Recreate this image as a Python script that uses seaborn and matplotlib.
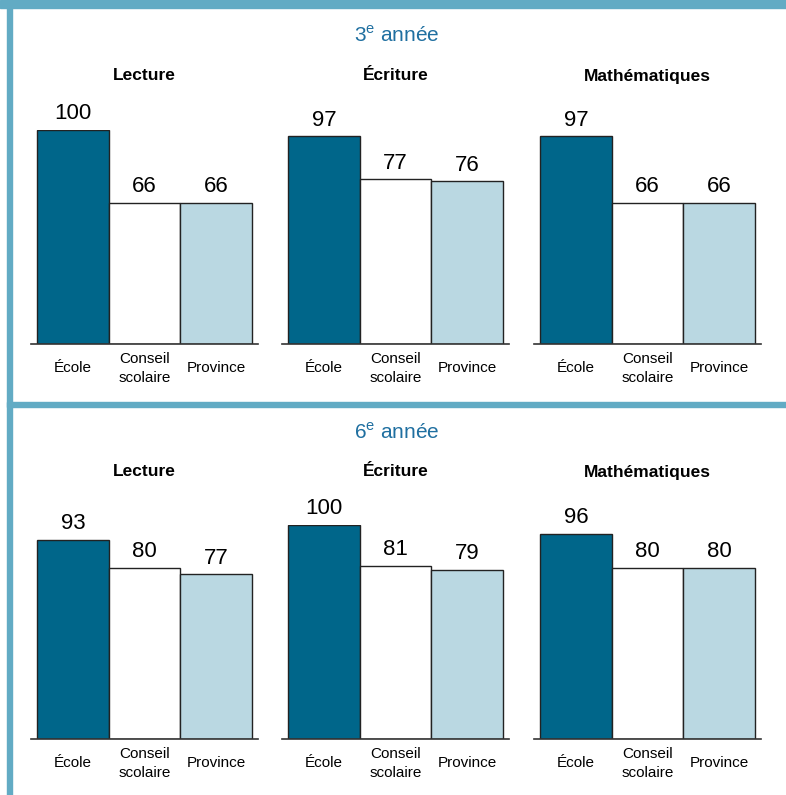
import matplotlib
matplotlib.use("Agg")
import matplotlib.pyplot as plt
import seaborn as sns
import pandas as pd
from matplotlib.patches import Rectangle

sns.set_style("white")
plt.rcParams['font.family'] = ['Liberation Sans', 'DejaVu Sans']
plt.rcParams['mathtext.fontset'] = 'custom'
plt.rcParams['mathtext.rm'] = 'Liberation Sans'
plt.rcParams['text.color'] = 'black'
plt.rcParams['xtick.color'] = 'black'

# data
groupes = ["École", "Conseil\nscolaire", "Province"]
matieres = ["Lecture", "Écriture", "Mathématiques"]
annees = ["3$^{\\rm e}$ année", "6$^{\\rm e}$ année"]
vals_3e = [[100, 66, 66], [97, 77, 76], [97, 66, 66]]
vals_6e = [[93, 80, 77], [100, 81, 79], [96, 80, 80]]
couleurs = ["#00668a", "#ffffff", "#bad8e2"]
bordure = "#62abc4"

W, H = 786, 795
fig = plt.figure(figsize=(W / 100, H / 100), dpi=100)

# cadre
fig.patches.append(Rectangle((0, 1 - 8 / H), 1, 8 / H, transform=fig.transFigure,
                             color=bordure, zorder=0))
fig.patches.append(Rectangle((7 / W, 0), 5 / W, 1 - 8 / H, transform=fig.transFigure,
                             color=bordure, zorder=0))
fig.patches.append(Rectangle((7 / W, 1 - 407 / H), 1, 5 / H, transform=fig.transFigure,
                             color=bordure, zorder=0))

xpos = [(31, 227), (282, 227), (534, 227)]
lignes = [(vals_3e, 344, 35, 76), (vals_6e, 739, 432, 472)]

for r, (vals, base, ytitre, ysous) in enumerate(lignes):
    fig.text(397 / W, 1 - ytitre / H, annees[r], ha='center', va='center',
             fontsize=15, color="#1f6fa0")
    for c, (x0, w) in enumerate(xpos):
        ax = fig.add_axes([x0 / W, 1 - base / H, w / W, 214 / H])
        df = pd.DataFrame({"groupe": groupes, "valeur": vals[c]})
        sns.barplot(data=df, x="groupe", y="valeur", hue="groupe",
                    palette=couleurs, saturation=1, width=1.0, edgecolor="#222222",
                    linewidth=1, legend=False, ax=ax)
        for cont in ax.containers:
            ax.bar_label(cont, fontsize=16, padding=4)
        ax.set_ylim(0, 100)
        ax.set_xlim(-0.59, 2.59)
        ax.set_xlabel("")
        ax.set_ylabel("")
        ax.set_yticks([])
        ax.tick_params(axis='x', length=0, labelsize=11, pad=17.5)
        for lab in ax.get_xticklabels():
            lab.set_linespacing(1.45)
            lab.set_verticalalignment('center')
        for s in ["top", "left", "right"]:
            ax.spines[s].set_visible(False)
        ax.spines["bottom"].set_color("#333333")
        ax.spines["bottom"].set_linewidth(1.2)
        fig.text((x0 + w / 2) / W, 1 - ysous / H, matieres[c], ha='center',
                 va='center', fontsize=12.5, fontweight='bold')

fig.savefig("out.png", dpi=100)
